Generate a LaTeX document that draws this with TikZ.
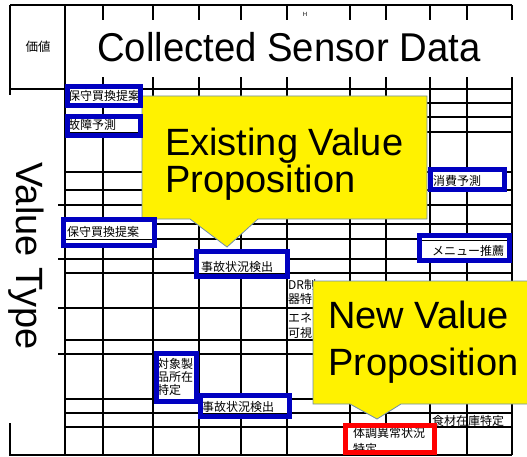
\documentclass[tikz,border=0pt]{standalone}
\usepackage{fontspec}
\setmainfont{Liberation Sans}
\newfontfamily\cjk{Noto Sans CJK JP}
\definecolor{boxblue}{RGB}{0,0,192}
\definecolor{calloutedge}{RGB}{110,140,175}
\begin{document}
\begin{tikzpicture}[x=1pt,y=-1pt,
  grid/.style={line width=1.2pt, black},
  bluebox/.style={draw=boxblue, line width=5pt},
  redbox/.style={draw=red, line width=5pt},
  celltext/.style={font=\cjk\fontsize{12}{14}\selectfont, anchor=base west, inner sep=0pt},
  bigtext/.style={font=\fontsize{38}{38}\selectfont, anchor=base west, inner sep=0pt},
  callout/.style={fill=yellow, draw=calloutedge, line width=0.8pt},
  underl/.style={line width=0.8pt, black}]
\useasboundingbox (0,0) rectangle (527,457);
\clip (0,0) rectangle (527,457);
\fill[white] (0,0) rectangle (527,457);

% ---------- table grid ----------
\draw[grid] (10,5) -- (512,5);
\draw[grid] (10,89) -- (512,89);
\foreach \x in {10,65,103,153,199,241,287,350,386,430,467,512}
  \draw[grid] (\x,5) -- (\x,455);
\foreach \y in {103,117,132}
  \draw[grid] (142,\y) -- (512,\y);
\foreach \y in {172,190,224,239,273,340,399,413,427}
  \draw[grid] (65,\y) -- (512,\y);
\foreach \y in {205,259,308,354}
  \draw[grid] (10,\y) -- (512,\y);
\draw[grid] (9,455) -- (512,455);

% ---------- header ----------
\fill[white] (67,20) rectangle (530,77);
\node[font=\cjk\fontsize{12.5}{14}\selectfont, inner sep=0pt] (hdrval) at (38,47) {価値};
\node[font=\fontsize{6}{7}\selectfont, inner sep=0pt] (hdrh) at (305,14) {H};
\node[font=\fontsize{38.3}{40}\selectfont, anchor=base west, inner sep=0pt, yscale=1.05] (hdr) at (97,62) {Collected Sensor Data};

% ---------- left label ----------
\fill[white] (-1,95) rectangle (58,423);
\node[font=\fontsize{38}{38}\selectfont, rotate=-90, inner sep=0pt] (vtype) at (26,256) {Value Type};

% ---------- loose cell texts ----------
\node[celltext] (dr1) at (288,289) {DR制};
\node[celltext] (dr2) at (288,303.5) {器特};
\node[celltext] (en1) at (288,322) {エネ};
\node[celltext] (en2) at (288,337) {可視};
\node[celltext] (shoku) at (432,425) {食材在庫特定};

% ---------- callouts ----------
\draw[callout] (142,96) -- (427,96) -- (427,219) -- (258,219) -- (227,247)
  -- (190,219) -- (142,219) -- cycle;
\node[bigtext] (ex1) at (165,156) {Existing Value};
\node[bigtext] (ex2) at (165,193) {Proposition};

\draw[callout] (313,281) -- (535,281) -- (535,404) -- (401,404) -- (377,419)
  -- (350,404) -- (313,404) -- cycle;
\node[bigtext] (nv1) at (328,328) {New Value};
\node[bigtext] (nv2) at (328,375) {Proposition};

% ---------- blue boxes ----------
% box 1
\fill[white] (67.5,86.5) rectangle (140.5,105.5);
\node[celltext] (b1) at (68,101) {保守買換提案};
\draw[underl] (70,103) -- (138,103);
\draw[bluebox] (67.5,86.5) rectangle (140.5,105.5);
% box 2
\fill[white] (67.5,116.5) rectangle (140.5,135.5);
\node[celltext] (b2) at (68,130) {故障予測};
\draw[underl] (70,132) -- (138,132);
\draw[bluebox] (67.5,116.5) rectangle (140.5,135.5);
% box 3
\fill[white] (63.5,219.5) rectangle (154.5,245.5);
\node[celltext] (b3) at (67,236.5) {保守買換提案};
\draw[underl] (66,239) -- (152,239);
\draw[bluebox] (63.5,219.5) rectangle (154.5,245.5);
% box 4
\fill[white] (196.5,251.5) rectangle (287.5,276.5);
\node[celltext] (b4) at (201,271) {事故状況検出};
\draw[underl] (199,273.5) -- (285,273.5);
\draw[bluebox] (196.5,251.5) rectangle (287.5,276.5);
% box 5
\fill[white] (200.5,395.5) rectangle (289.5,416.5);
\node[celltext] (b5) at (202,411) {事故状況検出};
\draw[underl] (203,413) -- (287,413);
\draw[bluebox] (200.5,395.5) rectangle (289.5,416.5);
% box 6
\fill[white] (430.5,169.5) rectangle (504.5,189.5);
\node[celltext] (b6) at (433,185.5) {消費予測};
\draw[bluebox] (430.5,169.5) rectangle (504.5,189.5);
% box 7
\fill[white] (419.5,235.5) rectangle (509.5,260.5);
\draw[underl] (422,240) -- (507,240);
\node[celltext] (b7) at (432,255) {メニュー推薦};
\draw[bluebox] (419.5,235.5) rectangle (509.5,260.5);
% box 8
\fill[white] (156.5,353.5) rectangle (196.5,401.5);
\node[celltext] (b8a) at (157,368) {対象製};
\node[celltext] (b8b) at (157,381) {品所在};
\node[celltext] (b8c) at (157,394) {特定};
\draw[bluebox] (156.5,353.5) rectangle (196.5,401.5);

% ---------- red box ----------
\fill[white] (345.5,425.5) rectangle (434.5,452.5);
\node[celltext] (r1) at (353,437.5) {体調異常状況};
\node[celltext] (r2) at (353,453) {特定};
\draw[redbox] (345.5,425.5) rectangle (434.5,452.5);
\end{tikzpicture}
\end{document}
